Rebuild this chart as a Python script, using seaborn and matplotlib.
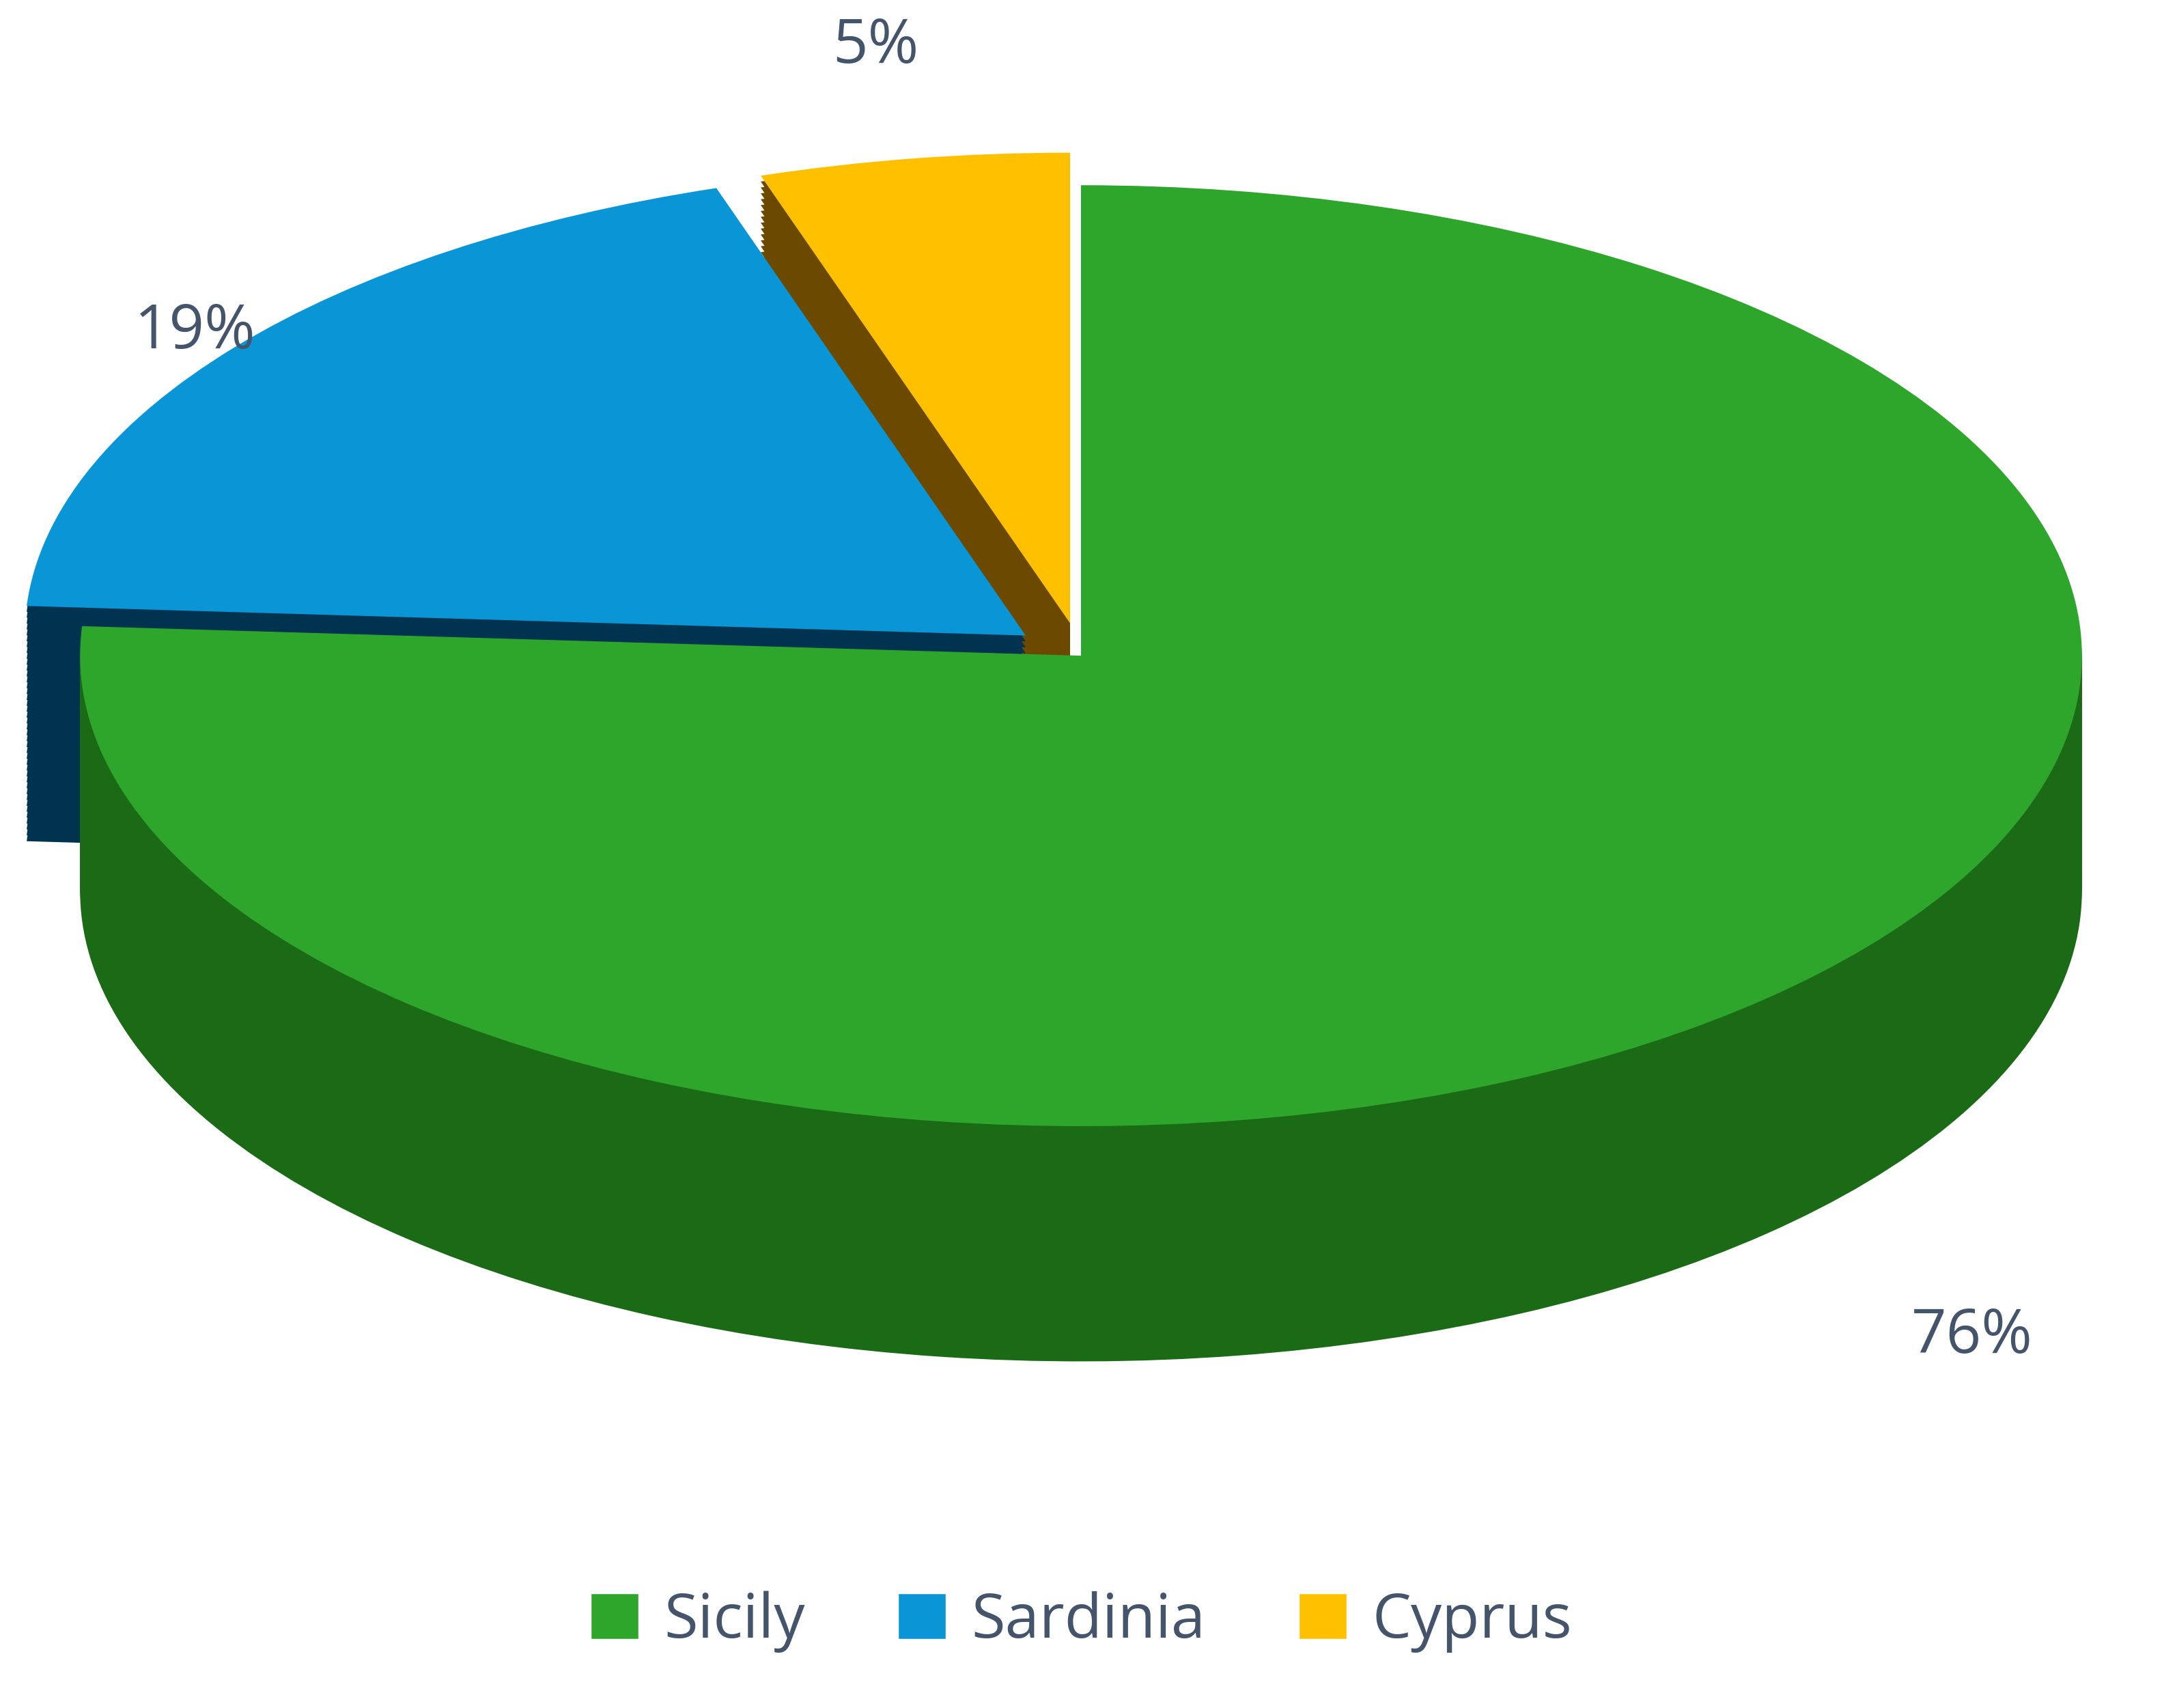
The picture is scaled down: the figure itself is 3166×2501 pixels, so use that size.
import numpy as np
import matplotlib
matplotlib.use("Agg")
import matplotlib.pyplot as plt
import seaborn as sns
from matplotlib.patches import Patch

# data
regions = ["Sicily", "Sardinia", "Cyprus"]
shares = [76, 19, 5]
top_colors = ["#2ea62b", "#0a95d6", "#ffc000"]
side_colors = ["#1a6a16", "#00334f", "#6b4a00"]
explode = [0.0, 0.07, 0.07]
label_radius = [1.3, 1.05, 1.24]

sns.set_theme(style="white")
plt.rcParams["font.family"] = ["Open Sans", "DejaVu Sans"]

fig = plt.figure(figsize=(12.664, 10.004), dpi=250)
ax = fig.add_axes([0.0, 0.1, 1.0, 0.9])

depth = 0.5
n_layers = 40
for k in range(n_layers, 0, -1):
    d = depth * k / n_layers
    ax.pie(shares, colors=side_colors, startangle=90, counterclock=False,
           explode=explode, center=(0, -d), radius=1.0,
           wedgeprops=dict(linewidth=0))

wedges, _ = ax.pie(shares, colors=top_colors, startangle=90, counterclock=False,
                   explode=explode, center=(0, 0), radius=1.0,
                   wedgeprops=dict(linewidth=0))

ax.set_aspect(0.47)
ax.set_xlim(-1.08, 1.08)
ax.set_ylim(-1.78, 1.3)
ax.axis("off")

# percentage labels placed outside each slice
start = 90.0
for share, ex, r in zip(shares, explode, label_radius):
    mid = start - share * 3.6 / 2
    start -= share * 3.6
    th = np.deg2rad(mid)
    x, y = (r + ex) * np.cos(th), (r + ex) * np.sin(th)
    if share == 76:
        y -= depth
    ax.text(x, y, f"{share}%", ha="center", va="center",
            fontsize=26, color="#44546a")

handles = [Patch(facecolor=c, label=l) for c, l in zip(top_colors, regions)]
fig.legend(handles=handles, loc="lower center", ncol=3, frameon=False,
           fontsize=26, labelcolor="#44546a", handlelength=0.8,
           handleheight=0.8, columnspacing=1.5, handletextpad=0.4,
           bbox_to_anchor=(0.5, 0.0))

fig.savefig("out.png", dpi=250)
